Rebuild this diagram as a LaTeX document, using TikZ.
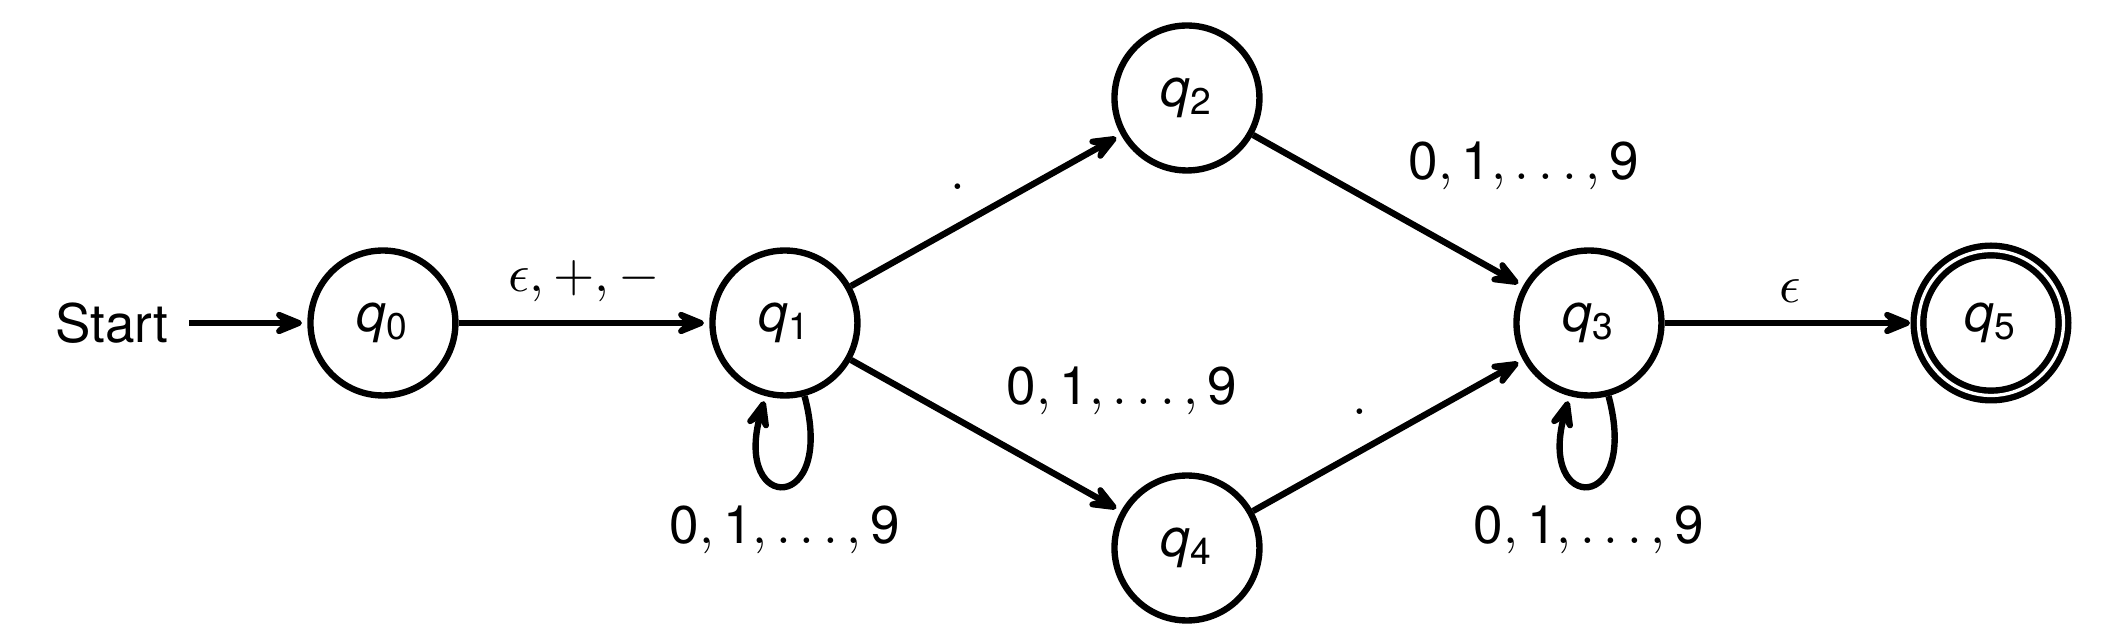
\documentclass[tikz,border=0pt]{standalone}
\usepackage{fontspec}
\setmainfont{TeX Gyre Heros}
\usetikzlibrary{calc,positioning,arrows.meta}

\newcommand{\qs}[1]{$\mathit{q}_\mathrm{#1}$}
\newcommand{\digs}{$\mathrm{0}, \mathrm{1}, \ldots, \mathrm{9}$}

\begin{document}
\begin{tikzpicture}[node distance=1.66cm,auto,>={Stealth[length=7.6pt,width=6.2pt,inset=3.2pt,round]},
  shorten >=1pt,line width=1.2pt,
  state/.style={circle,draw,minimum size=0.96cm,inner sep=0pt},
  accept/.style={state,double,double distance=0.62pt}]
  \useasboundingbox (-2.536,-2.099) rectangle (11.556,2.139);
  \node[state] (q0) {\qs{0}};
  \node[left = 0.78cm of q0] (start) {Start};
  \node[state, right = of q0] (q1) {\qs{1}};
  \node[state, right = of q1, yshift=1.49cm] (q2) {\qs{2}};
  \node[state, right = of q1, yshift=-1.49cm] (q4) {\qs{4}};
  \node[state, right = of q2, yshift=-1.49cm] (q3) {\qs{3}};
  \node[accept, right = of q3] (q5) {\qs{5}};
  %
  \draw[->] (start) -- (q0);
  \draw[->] (q0) -- node {$\epsilon, +, -$} (q1);
  \draw[->] (q1) -- node {$.$} (q2);
  \draw[->] (q1) -- node {\digs} (q4);
  \draw[->] (q2) -- node {\digs} (q3);
  \draw[->] (q4) -- node {$.$} (q3);
  \draw[->] (q3) -- node {$\epsilon$} (q5);
  \draw[->] (q1) to[loop below] node {\digs} (q1);
  \draw[->] (q3) to[loop below] node {\digs} (q3);
\end{tikzpicture}
\end{document}
